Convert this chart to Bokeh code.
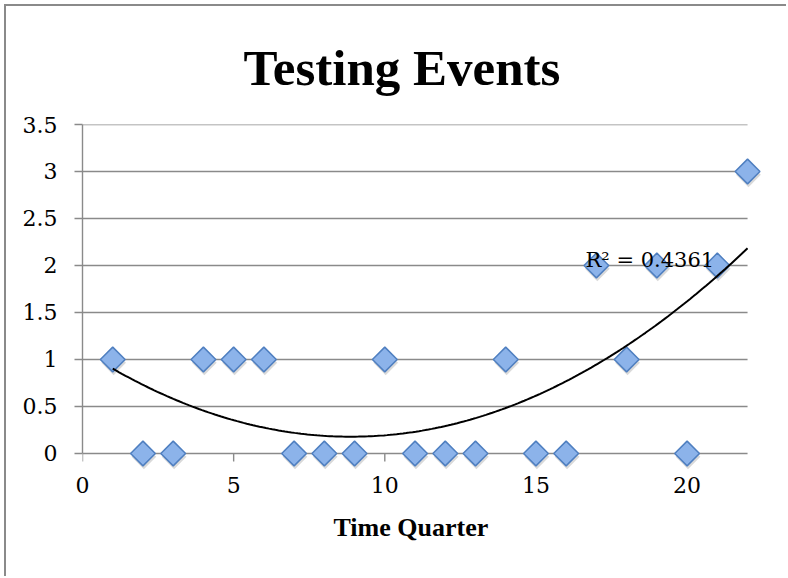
import numpy as np
from bokeh.plotting import figure
from bokeh.models import Range1d, FixedTicker, Label, Title
from bokeh.embed import file_html
from bokeh.resources import INLINE

# ---- data ----
quarters = list(range(1, 23))
events = [1, 0, 0, 1, 1, 1, 0, 0, 0, 1, 0, 0, 0, 1, 0, 0, 2, 1, 2, 0, 2, 3]
x_ticks = [0, 5, 10, 15, 20]
y_ticks = [0, 0.5, 1, 1.5, 2, 2.5, 3, 3.5]
y_tick_labels = ["0", "0.5", "1", "1.5", "2", "2.5", "3", "3.5"]
x_min, x_max = 0, 22
title_text = "Testing Events"
x_label = "Time Quarter"
r2_text = "R\u00b2 = 0.4361"

# polynomial (order 2) trendline fitted to the data
coef = np.polyfit(quarters, events, 2)
trend_x = np.linspace(min(quarters), max(quarters), 200)
trend_y = np.polyval(coef, trend_x)

SERIF = "Liberation Serif"
NUMF = "DejaVu Serif"
GRID = "#8a8a8a"

p = figure(width=782, height=572, output_backend="svg", toolbar_location=None,
           x_range=Range1d(0, 22.66), y_range=Range1d(-0.213, 3.5),
           min_border_left=76, min_border_right=21, min_border_top=118,
           min_border_bottom=105, background_fill_color="white",
           border_fill_color="white", outline_line_color=None)
p.styles = {"margin-left": "4px", "margin-top": "4px",
            "border-left": "2px solid #8a8a8a", "border-top": "2px solid #8a8a8a"}

p.title.text = title_text
p.title.align = "left"
p.title.offset = 161
p.title.text_font = SERIF
p.title.text_font_size = "51px"
p.title.text_font_style = "bold"
p.title.text_color = "black"
p.title.standoff = 58

p.xgrid.visible = False
p.ygrid.visible = False

for ax in (p.xaxis[0], p.yaxis[0]):
    ax.axis_line_color = GRID
    ax.axis_line_width = 1.4
    ax.major_tick_line_color = GRID
    ax.major_tick_line_width = 1.4
    ax.major_tick_out = 8
    ax.major_tick_in = 0
    ax.minor_tick_line_color = None
    ax.major_label_text_font = NUMF
    ax.major_label_text_font_size = "22px"
    ax.major_label_text_color = "black"

# x axis: labels only (axis line = grid line at 0, ticks drawn from the tick list)
xa = p.xaxis[0]
xa.ticker = FixedTicker(ticks=x_ticks)
xa.axis_line_color = None
xa.major_tick_line_color = None
xa.major_tick_out = 0
xa.major_label_standoff = 3

p.add_layout(Title(text=x_label, align="left", offset=251, standoff=30,
                   text_font=SERIF, text_font_size="26px",
                   text_font_style="bold", text_color="black"), "below")

ya = p.yaxis[0]
ya.ticker = FixedTicker(ticks=y_ticks)
ya.bounds = (0, 3.5)
ya.major_label_overrides = {t: l for t, l in zip(y_ticks, y_tick_labels)}
ya.major_label_standoff = 17

# horizontal grid lines spanning the data range only
p.segment(x0=[x_min] * len(y_ticks), y0=y_ticks, x1=[x_max] * len(y_ticks),
          y1=y_ticks, line_color=GRID, line_width=1.4)

# x tick marks hanging 8px below the zero line
p.segment(x0=x_ticks, y0=[0] * len(x_ticks), x1=x_ticks,
          y1=[-0.085] * len(x_ticks), line_color=GRID, line_width=1.4)

# shadow + diamonds
p.scatter(np.array(quarters) + 0.03, np.array(events) - 0.035, marker="square",
          angle=np.pi / 4, size=17.5, fill_color="black", fill_alpha=0.15,
          line_color=None)
p.scatter(quarters, events, marker="square", angle=np.pi / 4, size=17.5,
          fill_color="#8cb3ea", line_color="#4f7fc0", line_width=1.5)

p.line(trend_x, trend_y, line_color="black", line_width=2)

p.add_layout(Label(x=16.64, y=2.055, text=r2_text, text_font=NUMF,
                   text_font_size="21px", text_color="black",
                   text_baseline="alphabetic"))

open("out.html", "w").write(file_html(p, INLINE))
